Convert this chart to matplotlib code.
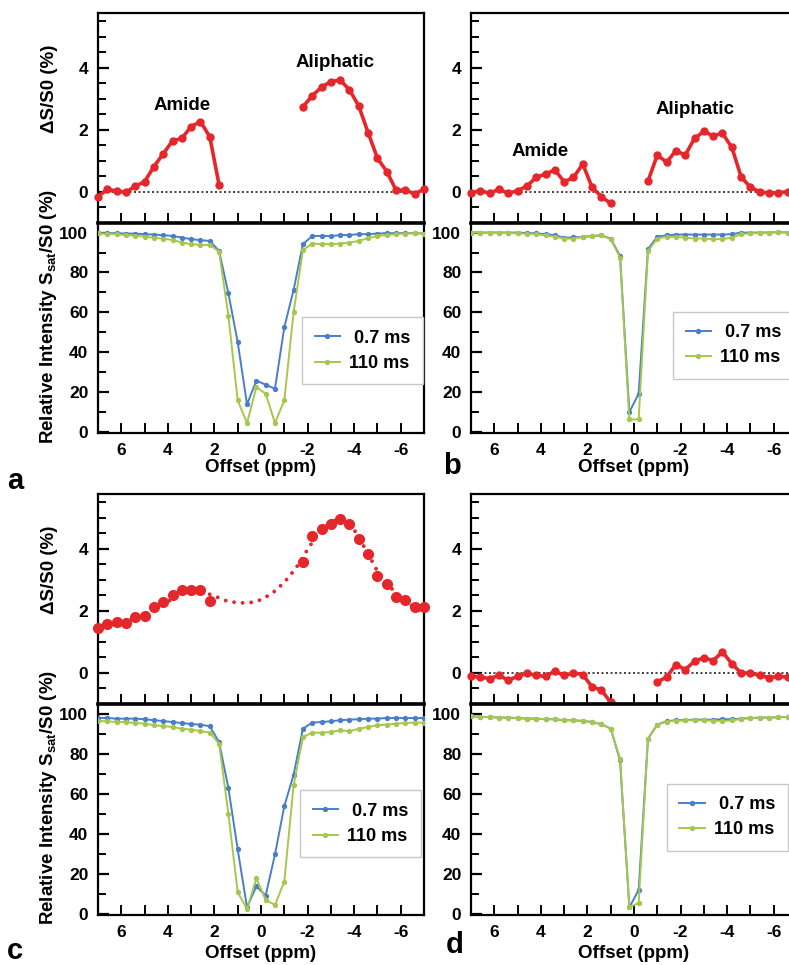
import matplotlib
matplotlib.use('Agg')
import matplotlib.pyplot as plt
from matplotlib.ticker import MultipleLocator, FixedLocator

plt.rcParams['font.family'] = ['Liberation Sans', 'DejaVu Sans']
plt.rcParams['font.weight'] = 'bold'
plt.rcParams['mathtext.fontset'] = 'custom'
plt.rcParams['mathtext.rm'] = 'Liberation Sans:bold'
plt.rcParams['mathtext.bf'] = 'Liberation Sans:bold'
plt.rcParams['mathtext.it'] = 'Liberation Sans:bold'

# ---------------- data ----------------
offsets = [7.0, 6.6, 6.2, 5.8, 5.4, 5.0, 4.6, 4.2, 3.8, 3.4, 3.0, 2.6, 2.2,
           1.8, 1.4, 1.0, 0.6, 0.2, -0.2, -0.6, -1.0, -1.4, -1.8,
           -2.2, -2.6, -3.0, -3.4, -3.8, -4.2, -4.6, -5.0, -5.4, -5.8, -6.2, -6.6, -7.0]

# panel a  (Delta S / S0, %)
a_amide_x = [7.0, 6.6, 6.2, 5.8, 5.4, 5.0, 4.6, 4.2, 3.8, 3.4, 3.0, 2.6, 2.2, 1.8]
a_amide_y = [-0.15, 0.09, 0.03, -0.01, 0.19, 0.33, 0.82, 1.23, 1.65, 1.73, 2.11, 2.27, 1.78, 0.23]
a_aliph_x = [-1.8, -2.2, -2.6, -3.0, -3.4, -3.8, -4.2, -4.6, -5.0, -5.4, -5.8, -6.2, -6.6, -7.0]
a_aliph_y = [2.75, 3.10, 3.38, 3.56, 3.61, 3.29, 2.77, 1.91, 1.09, 0.66, 0.06, 0.06, -0.06, 0.09]

# panel b
b_amide_x = [7.0, 6.6, 6.2, 5.8, 5.4, 5.0, 4.6, 4.2, 3.8, 3.4, 3.0, 2.6, 2.2, 1.8, 1.4, 1.0]
b_amide_y = [-0.02, 0.04, -0.04, 0.09, -0.04, 0.04, 0.19, 0.47, 0.58, 0.71, 0.33, 0.47, 0.90, 0.15, -0.15, -0.37]
b_aliph_x = [-0.6, -1.0, -1.4, -1.8, -2.2, -2.6, -3.0, -3.4, -3.8, -4.2, -4.6, -5.0, -5.4, -5.8, -6.2, -6.6, -7.0]
b_aliph_y = [0.35, 1.19, 0.96, 1.33, 1.19, 1.73, 1.95, 1.81, 1.89, 1.44, 0.49, 0.15, 0.01, -0.04, -0.02, 0.01, 0.0]

c_amide_x = [7.0, 6.6, 6.2, 5.8, 5.4, 5.0, 4.6, 4.2, 3.8, 3.4, 3.0, 2.6, 2.2]
c_amide_y = [1.46, 1.59, 1.64, 1.61, 1.82, 1.85, 2.14, 2.28, 2.53, 2.66, 2.66, 2.66, 2.31]
c_aliph_x = [-1.8, -2.2, -2.6, -3.0, -3.4, -3.8, -4.2, -4.6, -5.0, -5.4, -5.8, -6.2, -6.6, -7.0]
c_aliph_y = [3.57, 4.43, 4.64, 4.80, 4.96, 4.80, 4.32, 3.82, 3.14, 2.87, 2.44, 2.34, 2.14, 2.12]
c_fit_x = [7.0, 6.5, 6.0, 5.5, 5.0, 4.5, 4.0, 3.5, 3.0, 2.5, 2.0, 1.5, 1.0, 0.5, 0.0,
           -0.5, -1.0, -1.5, -2.0, -2.5, -3.0, -3.5, -4.0, -4.5, -5.0, -5.5, -6.0, -6.5, -7.0]
c_fit_y = [1.40, 1.50, 1.62, 1.74, 1.88, 2.08, 2.30, 2.52, 2.64, 2.62, 2.48, 2.33, 2.26, 2.26, 2.36,
           2.58, 2.92, 3.38, 3.98, 4.55, 4.88, 4.97, 4.62, 3.98, 3.28, 2.80, 2.44, 2.16, 1.92]

# panel d
d_amide_x = [7.0, 6.6, 6.2, 5.8, 5.4, 5.0, 4.6, 4.2, 3.8, 3.4, 3.0, 2.6, 2.2, 1.8, 1.4, 1.0]
d_amide_y = [-0.11, -0.13, -0.18, -0.08, -0.23, -0.11, 0.0, -0.08, -0.11, 0.06, -0.08, 0.0, -0.05, -0.45, -0.55, -0.95]
d_aliph_x = [-1.0, -1.4, -1.8, -2.2, -2.6, -3.0, -3.4, -3.8, -4.2, -4.6, -5.0, -5.4, -5.8, -6.2, -6.6, -7.0]
d_aliph_y = [-0.29, -0.13, 0.27, 0.11, 0.38, 0.49, 0.40, 0.68, 0.30, 0.0, 0.0, -0.08, -0.15, -0.11, -0.13, -0.10]

# Z-spectra (relative intensity, %)
a_short = [99.7, 99.7, 99.7, 99.5, 99.5, 99.2, 99.0, 98.7, 98.3, 97.5, 96.7, 96.2, 95.8,
           90.8, 69.5, 45.0, 13.8, 25.8, 23.7, 21.7, 52.5, 71.2, 94.2,
           98.3, 98.3, 98.3, 98.7, 98.8, 99.2, 99.2, 99.5, 99.7, 99.7, 99.7, 99.7, 99.5]
a_long = [99.6, 99.4, 99.1, 98.8, 98.4, 98.0, 97.4, 96.9, 96.3, 95.0, 94.2, 93.8, 93.8,
          90.5, 58.3, 15.8, 4.5, 22.5, 19.2, 4.5, 15.8, 60.0, 91.2,
          94.5, 94.2, 94.2, 94.5, 95.0, 95.8, 97.2, 98.3, 98.8, 99.2, 99.5, 99.6, 99.5]
b_short = [100, 100, 100, 100, 100, 100, 99.8, 99.6, 99.2, 98.7, 97.4, 97.6, 97.8,
           98.3, 98.6, 97.0, 88.3, 10.0, 19.2, 91.7, 98.0, 98.6, 99.0,
           99.0, 99.0, 99.0, 99.0, 99.0, 99.2, 100, 100, 100, 100, 100.2, 100, 100]
b_long = [100, 100, 100, 100, 99.8, 99.6, 99.4, 99.2, 98.6, 98.0, 97.0, 97.0, 97.8,
          98.3, 98.6, 96.7, 87.5, 6.3, 6.3, 90.8, 97.0, 98.0, 97.8,
          97.5, 97.0, 97.0, 96.7, 96.7, 97.5, 99.2, 99.6, 99.8, 100, 100.2, 100, 100]
c_short = [97.8, 97.8, 97.5, 97.5, 97.5, 97.2, 96.7, 96.3, 95.8, 95.3, 94.8, 94.5, 93.7,
           85.8, 62.8, 32.2, 3.3, 13.8, 9.2, 29.7, 53.8, 69.5, 92.5,
           95.5, 95.8, 96.2, 96.7, 97.0, 97.2, 97.5, 97.5, 97.8, 97.8, 97.8, 97.8, 97.8]
c_long = [96.3, 96.2, 95.8, 95.8, 95.3, 95.0, 94.2, 93.8, 93.3, 92.5, 92.0, 91.3, 90.5,
          85.0, 50.0, 10.8, 2.5, 17.8, 7.0, 4.5, 16.2, 64.2, 88.3,
          90.5, 90.5, 90.8, 91.7, 91.2, 92.5, 93.3, 94.2, 94.5, 95.0, 95.3, 95.5, 95.5]
d_short = [98.8, 98.3, 98.3, 98.0, 98.0, 97.8, 97.5, 97.5, 97.2, 97.2, 96.7, 96.7, 96.3,
           95.8, 94.7, 92.5, 76.7, 3.3, 12.0, 87.5, 94.5, 96.2, 96.7,
           96.8, 97.0, 97.0, 97.0, 97.2, 97.2, 97.5, 97.8, 98.0, 98.0, 98.2, 98.3, 98.3]
d_long = [98.8, 98.3, 98.3, 98.0, 98.0, 97.8, 97.5, 97.5, 97.2, 97.2, 96.7, 96.7, 96.3,
          95.8, 94.7, 92.5, 77.5, 3.3, 5.5, 87.5, 94.5, 96.0, 96.5,
          96.6, 96.7, 96.6, 96.5, 96.3, 96.6, 97.3, 97.8, 98.0, 98.0, 98.2, 98.3, 98.3]

series_labels = [' 0.7 ms', '110 ms']
x_ticks = [6, 4, 2, 0, -2, -4, -6]
top_yticks = [0, 2, 4]
bot_yticks = [0, 20, 40, 60, 80, 100]

# ---------------- style ----------------
RED = '#e5262b'
BLUE = '#4a7ec8'
GREEN = '#a6c74c'
W, H = 789, 965
TICK_FS = 12.5
LAB_FS = 13.5

fig = plt.figure(figsize=(W / 100, H / 100), dpi=100)


def add_ax(x0, y0, x1, y1):
    return fig.add_axes([x0 / W, 1 - y1 / H, (x1 - x0) / W, (y1 - y0) / H])


def style_top(ax, zero_line=True):
    ax.set_xlim(7, -7)
    ax.set_ylim(-1.0, 5.77)
    for s in ax.spines.values():
        s.set_linewidth(1.6)
    ax.yaxis.set_major_locator(FixedLocator(top_yticks))
    ax.yaxis.set_minor_locator(MultipleLocator(0.5))
    ax.xaxis.set_major_locator(MultipleLocator(1))
    ax.tick_params(axis='both', which='both', direction='in', top=False, right=False)
    ax.tick_params(axis='y', which='major', length=8, width=1.6, pad=7, labelsize=TICK_FS)
    ax.tick_params(axis='y', which='minor', length=6, width=1.4)
    ax.tick_params(axis='x', which='major', length=7, width=1.4, labelbottom=False)
    if zero_line:
        ax.axhline(0, color='#222222', lw=1.2, ls=(0, (1.2, 1.5)), zorder=1)


def style_bot(ax):
    ax.set_xlim(7, -7)
    ax.set_ylim(-0.5, 104.8)
    for s in ax.spines.values():
        s.set_linewidth(1.6)
    ax.spines['top'].set_linewidth(2.6)
    ax.yaxis.set_major_locator(FixedLocator(bot_yticks))
    ax.yaxis.set_minor_locator(MultipleLocator(10))
    ax.xaxis.set_major_locator(FixedLocator(x_ticks))
    ax.xaxis.set_minor_locator(MultipleLocator(1))
    ax.tick_params(axis='both', which='both', direction='in', top=False, right=False)
    ax.tick_params(axis='y', which='major', length=8, width=1.6, pad=7, labelsize=TICK_FS)
    ax.tick_params(axis='y', which='minor', length=6, width=1.4)
    ax.tick_params(axis='x', which='major', length=7, width=1.4, pad=7, labelsize=TICK_FS)
    ax.tick_params(axis='x', which='minor', length=7, width=1.4)
    ax.set_xticklabels([str(t) for t in x_ticks])


def zspec(ax, short, long_, leg_x0, leg_top):
    l1, = ax.plot(offsets, short, color=BLUE, lw=1.4, marker='o', ms=2.8, zorder=3)
    l2, = ax.plot(offsets, long_, color=GREEN, lw=1.4, marker='o', ms=2.8, zorder=4)
    leg = ax.legend([l1, l2], series_labels, loc='upper left', bbox_to_anchor=(leg_x0, leg_top),
                    borderaxespad=0, frameon=True, fancybox=False, edgecolor='#c8c8c8',
                    prop={'size': 13, 'weight': 'bold'}, handlelength=1.4, handletextpad=0.5,
                    borderpad=0.7, labelspacing=0.45, numpoints=1, framealpha=1)
    leg.get_frame().set_linewidth(1.0)


def red_line(ax, x, y):
    ax.plot(x, y, color=RED, lw=2.6, marker='o', ms=5, zorder=5, clip_on=False)


# ---------- panel a ----------
ax_at = add_ax(98, 13, 424, 223)
style_top(ax_at)
red_line(ax_at, a_amide_x, a_amide_y)
red_line(ax_at, a_aliph_x, a_aliph_y)
ax_at.text(3.4, 2.8, 'Amide', ha='center', va='center', fontsize=LAB_FS, weight='bold')
ax_at.text(-3.2, 4.17, 'Aliphatic', ha='center', va='center', fontsize=LAB_FS, weight='bold')
ax_ab = add_ax(98, 223, 424, 433)
style_bot(ax_ab)
zspec(ax_ab, a_short, a_long, 0.626, 0.552)

# ---------- panel b ----------
ax_bt = add_ax(471, 13, 797, 223)
style_top(ax_bt)
red_line(ax_bt, b_amide_x, b_amide_y)
red_line(ax_bt, b_aliph_x, b_aliph_y)
ax_bt.text(4.05, 1.3, 'Amide', ha='center', va='center', fontsize=LAB_FS, weight='bold')
ax_bt.text(-2.6, 2.65, 'Aliphatic', ha='center', va='center', fontsize=LAB_FS, weight='bold')
ax_bb = add_ax(471, 223, 797, 433)
style_bot(ax_bb)
zspec(ax_bb, b_short, b_long, 0.62, 0.578)

# ---------- panel c ----------
ax_ct = add_ax(98, 494, 424, 704)
style_top(ax_ct, zero_line=False)
ax_ct.plot(c_fit_x, c_fit_y, color=RED, lw=2.8, ls=(0, (0.01, 2.2)),
           dash_capstyle='round', zorder=4)
ax_ct.plot(c_amide_x, c_amide_y, ls='none', marker='o', ms=7, color=RED, zorder=5, clip_on=False)
ax_ct.plot(c_aliph_x, c_aliph_y, ls='none', marker='o', ms=7, color=RED, zorder=5, clip_on=False)
ax_cb = add_ax(98, 704, 424, 915)
style_bot(ax_cb)
zspec(ax_cb, c_short, c_long, 0.62, 0.592)

# ---------- panel d ----------
ax_dt = add_ax(471, 494, 797, 704)
style_top(ax_dt)
red_line(ax_dt, d_amide_x, d_amide_y)
red_line(ax_dt, d_aliph_x, d_aliph_y)
ax_db = add_ax(471, 704, 797, 915)
style_bot(ax_db)
zspec(ax_db, d_short, d_long, 0.60, 0.623)


# ---------- labels ----------
def ftext(x, y, s, **kw):
    fig.text(x / W, 1 - y / H, s, **kw)


for dy in (0, 481):
    ftext(49, 89 + dy, '\u0394S/S0 (%)', rotation=90, ha='center', va='center',
          fontsize=LAB_FS, weight='bold')
    ftext(49, 316 + dy, r'Relative Intensity S$_{\mathrm{sat}}$/S0 (%)', rotation=90,
          ha='center', va='center', fontsize=LAB_FS, weight='bold')

for (x, y) in [(261, 467), (634, 467), (261, 954), (634, 954)]:
    ftext(x, y, 'Offset (ppm)', ha='center', va='center', fontsize=LAB_FS, weight='bold')

for (x, y, s) in [(15, 481, 'a'), (452, 466, 'b'), (15, 951, 'c'), (455, 945, 'd')]:
    ftext(x, y, s, ha='center', va='center', fontsize=21, weight='bold')

fig.savefig('out.png', dpi=100)
